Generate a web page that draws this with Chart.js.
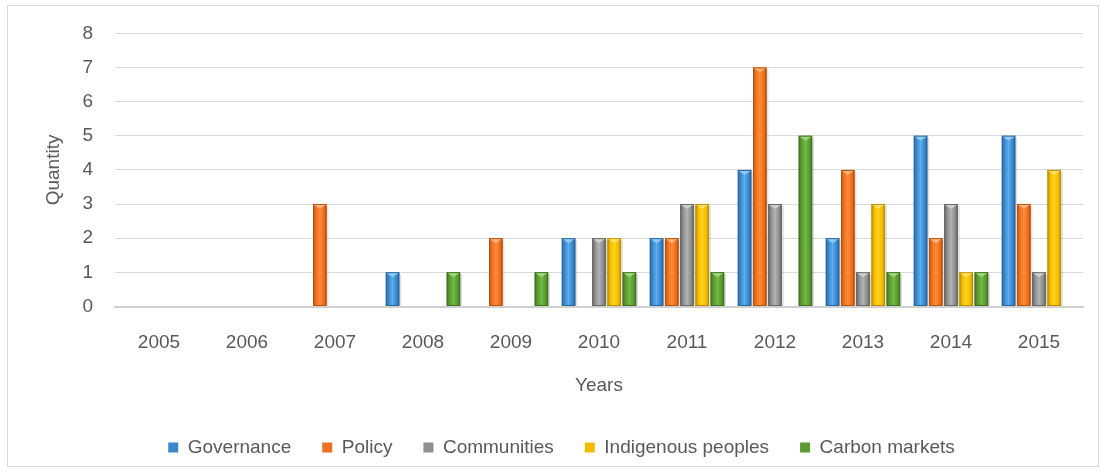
<!DOCTYPE html>
<html>
<head>
<meta charset="utf-8">
<script src="https://cdn.jsdelivr.net/npm/chart.js@4.4.1/dist/chart.umd.min.js"></script>
<style>
  html, body { margin: 0; padding: 0; background: #fff; }
  #wrap { width: 1106px; height: 475px; position: relative; }
</style>
</head>
<body>
<div id="wrap"><canvas id="chart" width="1106" height="475"></canvas></div>
<script>
const years = ['2005', '2006', '2007', '2008', '2009', '2010', '2011', '2012', '2013', '2014', '2015'];
const governance = [0, 0, 0, 1, 0, 2, 2, 4, 2, 5, 5];
const policy = [0, 0, 3, 0, 2, 0, 2, 7, 4, 2, 3];
const communities = [0, 0, 0, 0, 0, 2, 3, 3, 1, 3, 1];
const indigenous = [0, 0, 0, 0, 0, 2, 3, 0, 3, 1, 4];
const carbon = [0, 0, 0, 1, 1, 1, 1, 5, 1, 1, 0];

const FONT = "'Liberation Sans', Arial, sans-serif";
const TEXT = '#595959';

// base / light / dark for the bevelled bars
const shades = [
  ['#3A87CC', '#5AAEEB', '#2A66A0'],
  ['#EE7020', '#FF8A33', '#B8520E'],
  ['#8E8E8E', '#B4B4B4', '#666666'],
  ['#F2BC00', '#FFD21A', '#C08F00'],
  ['#5A9A30', '#74B845', '#3F7420']
];

// excel-like bevel drawn over each bar
const bevel = {
  id: 'bevel',
  afterDatasetsDraw(chart) {
    const ctx = chart.ctx;
    chart.data.datasets.forEach((ds, i) => {
      const meta = chart.getDatasetMeta(i);
      const [base, light, dark] = shades[i];
      meta.data.forEach(bar => {
        const h = bar.base - bar.y;
        if (h < 1) return;
        const l = bar.x - bar.width / 2, r = bar.x + bar.width / 2;
        ctx.save();
        // shadow
        ctx.fillStyle = 'rgba(0,0,0,0.12)';
        ctx.fillRect(r, bar.y + 2, 2, h - 2);
        const g = ctx.createLinearGradient(l, 0, r, 0);
        g.addColorStop(0, dark);
        g.addColorStop(0.2, base);
        g.addColorStop(0.5, light);
        g.addColorStop(0.8, base);
        g.addColorStop(1, dark);
        ctx.fillStyle = g;
        ctx.fillRect(l, bar.y, bar.width, h);
        ctx.strokeStyle = dark;
        ctx.lineWidth = 1;
        ctx.strokeRect(l + 0.5, bar.y + 0.5, bar.width - 1, h - 1);
        // top bevel triangle
        ctx.fillStyle = light;
        ctx.beginPath();
        ctx.moveTo(l + 1, bar.y + 1);
        ctx.lineTo(r - 1, bar.y + 1);
        ctx.lineTo(bar.x, bar.y + 5);
        ctx.closePath();
        ctx.fill();
        ctx.fillStyle = 'rgba(255,255,255,0.35)';
        ctx.fill();
        ctx.restore();
      });
    });
  },
  beforeDraw(chart) {
    const ctx = chart.ctx;
    ctx.save();
    ctx.fillStyle = '#fff';
    ctx.fillRect(0, 0, chart.width, chart.height);
    ctx.strokeStyle = '#d9d9d9';
    ctx.lineWidth = 1;
    ctx.strokeRect(7.5, 5.5, 1091, 461);
    ctx.restore();
  }
};

const names = ['Governance', 'Policy', 'Communities', 'Indigenous peoples', 'Carbon markets'];
const series = [governance, policy, communities, indigenous, carbon];

new Chart(document.getElementById('chart'), {
  type: 'bar',
  data: {
    labels: years,
    datasets: series.map((d, i) => ({
      label: names[i],
      data: d,
      backgroundColor: shades[i][0],
      borderColor: shades[i][2],
      borderWidth: 0,
      categoryPercentage: 0.865,
      barPercentage: 0.88
    }))
  },
  options: {
    responsive: false,
    animation: false,
    layout: { padding: { left: 40, right: 23, top: 24, bottom: 8 } },
    scales: {
      x: {
        grid: { display: false, drawTicks: false },
        border: { display: true, color: '#d0d0d0', width: 2 },
        ticks: { color: TEXT, font: { family: FONT, size: 19 }, padding: 25 },
        title: { display: true, text: 'Years', color: TEXT, font: { family: FONT, size: 19 }, padding: { top: 0, bottom: 10 } },
        afterFit(scale) { scale.height = 100.5; }
      },
      y: {
        min: 0,
        max: 8,
        ticks: { stepSize: 1, color: TEXT, font: { family: FONT, size: 19 }, padding: 22 },
        grid: { color: '#d9d9d9', drawTicks: false },
        border: { display: false },
        title: { display: true, text: 'Quantity', color: TEXT, font: { family: FONT, size: 19 }, padding: { top: 2, bottom: 0 } },
        afterFit(scale) { scale.width = 75; }
      }
    },
    plugins: {
      legend: {
        position: 'bottom',
        labels: {
          color: TEXT,
          font: { family: FONT, size: 19 },
          boxWidth: 10,
          boxHeight: 10,
          padding: 31
        }
      },
      tooltip: { enabled: false }
    }
  },
  plugins: [bevel]
});
</script>
</body>
</html>
